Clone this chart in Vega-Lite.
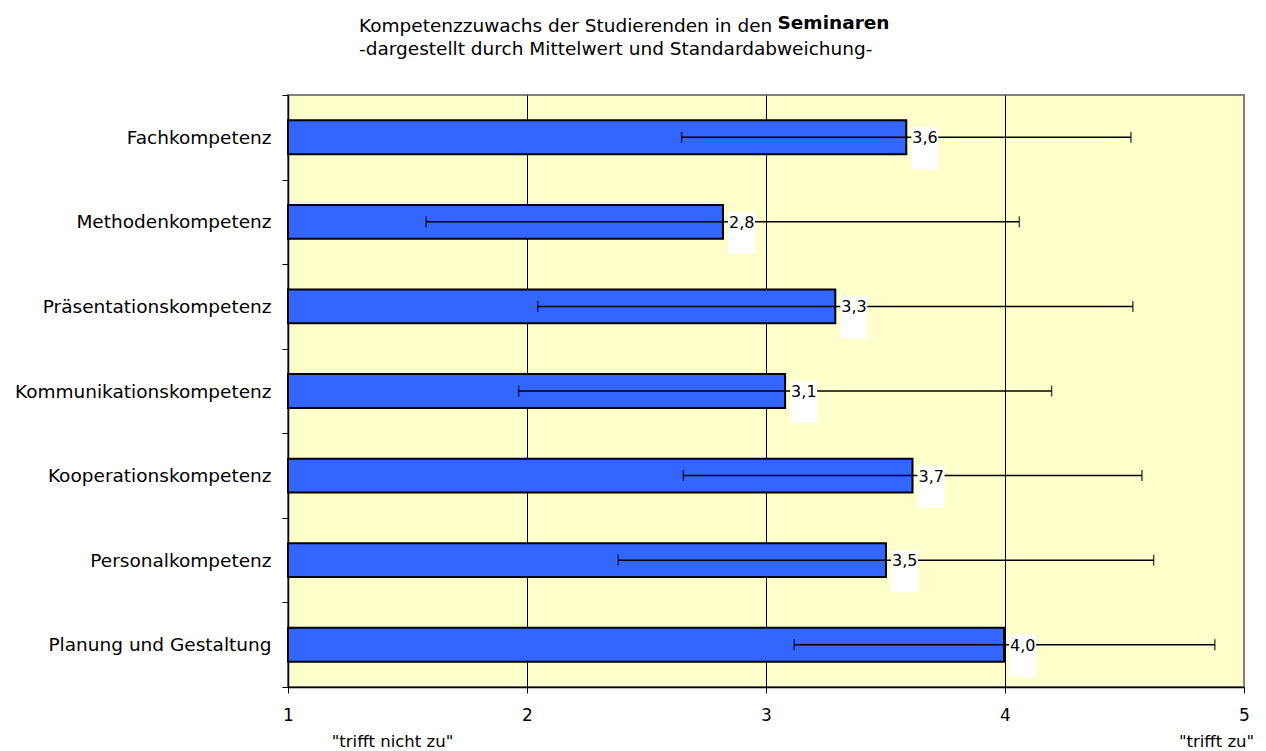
{
  "$schema": "https://vega.github.io/schema/vega-lite/v6.json",
  "width": 956,
  "height": 592,
  "autosize": {"type": "pad"},
  "padding": {"left": 14, "top": 13, "right": 5, "bottom": 5},
  "title": {
    "text": "Kompetenzzuwachs der Studierenden in den",
    "subtitle": "-dargestellt durch Mittelwert und Standardabweichung-",
    "anchor": "start",
    "frame": "group",
    "dx": 71,
    "font": "DejaVu Sans",
    "fontSize": 18.5,
    "fontWeight": "normal",
    "color": "black",
    "subtitleFont": "DejaVu Sans",
    "subtitleFontSize": 18.5,
    "subtitleColor": "black",
    "subtitlePadding": 4,
    "offset": -45
  },
  "config": {
    "font": "DejaVu Sans",
    "view": {"stroke": "#808080", "strokeWidth": 2, "fill": "#FFFFCC"}
  },
  "data": {
    "values": [
      {"kompetenz": "Fachkompetenz", "mean": 3.587, "lo": 2.647, "hi": 4.527, "label": "3,6"},
      {"kompetenz": "Methodenkompetenz", "mean": 2.82, "lo": 1.578, "hi": 4.06, "label": "2,8"},
      {"kompetenz": "Präsentationskompetenz", "mean": 3.29, "lo": 2.045, "hi": 4.535, "label": "3,3"},
      {"kompetenz": "Kommunikationskompetenz", "mean": 3.08, "lo": 1.965, "hi": 4.195, "label": "3,1"},
      {"kompetenz": "Kooperationskompetenz", "mean": 3.613, "lo": 2.654, "hi": 4.573, "label": "3,7"},
      {"kompetenz": "Personalkompetenz", "mean": 3.502, "lo": 2.382, "hi": 4.622, "label": "3,5"},
      {"kompetenz": "Planung und Gestaltung", "mean": 3.996, "lo": 3.118, "hi": 4.878, "label": "4,0"}
    ]
  },
  "encoding": {
    "y": {
      "field": "kompetenz",
      "type": "nominal",
      "sort": null,
      "scale": {"paddingInner": 0, "paddingOuter": 0},
      "axis": {
        "title": "Seminaren",
        "titleAngle": 0,
        "titleAlign": "left",
        "titleBaseline": "alphabetic",
        "titleX": 489,
        "titleY": -67,
        "titleFont": "DejaVu Sans",
        "titleFontSize": 18.5,
        "titleFontWeight": "bold",
        "titleColor": "black",
        "tickBand": "extent",
        "tickSize": 6,
        "tickColor": "black",
        "tickWidth": 1,
        "domainColor": "black",
        "domainWidth": 1.5,
        "labelPadding": 11,
        "labelLimit": 0,
        "labelFont": "DejaVu Sans",
        "labelFontSize": 18.5,
        "labelColor": "black",
        "grid": false
      }
    }
  },
  "layer": [
    {
      "mark": {"type": "bar", "fill": "#3366FF", "stroke": "black", "strokeWidth": 2, "height": {"band": 0.4}},
      "encoding": {
        "x": {
          "field": "mean",
          "type": "quantitative",
          "scale": {"domain": [1, 5], "nice": false, "zero": false},
          "axis": {
            "orient": "bottom",
            "title": null,
            "values": [1, 2, 3, 4, 5],
            "format": "d",
            "grid": true,
            "gridColor": "black",
            "gridWidth": 1,
            "gridOpacity": {"condition": {"test": "datum.value == 1 || datum.value == 5", "value": 0}, "value": 1},
            "tickSize": 6,
            "tickColor": "black",
            "domainColor": "black",
            "domainWidth": 1.5,
            "labelPadding": 14,
            "labelFont": "DejaVu Sans",
            "labelFontSize": 17,
            "labelColor": "black",
            "labelFlush": false
          }
        },
        "x2": {"datum": 1}
      }
    },
    {
      "mark": {"type": "rule", "color": "black", "strokeWidth": 1.5},
      "encoding": {
        "x": {
          "field": "lo",
          "type": "quantitative",
          "axis": {
            "orient": "bottom",
            "title": null,
            "values": [1, 5],
            "ticks": false,
            "tickSize": 0,
            "domain": false,
            "grid": false,
            "labelExpr": "datum.value == 1 ? '\"trifft nicht zu\"' : '\"trifft zu\"'",
            "labelPadding": 46,
            "labelOffset": {"condition": {"test": "datum.value == 1", "value": 104}, "value": -28},
            "labelFont": "DejaVu Sans",
            "labelFontSize": 16.5,
            "labelColor": "black",
            "labelFlush": false
          }
        },
        "x2": {"field": "hi"}
      }
    },
    {
      "mark": {"type": "tick", "orient": "vertical", "size": 11, "thickness": 1.5, "color": "black"},
      "encoding": {"x": {"field": "lo", "type": "quantitative", "axis": null}}
    },
    {
      "mark": {"type": "tick", "orient": "vertical", "size": 11, "thickness": 1.5, "color": "black"},
      "encoding": {"x": {"field": "hi", "type": "quantitative", "axis": null}}
    },
    {
      "mark": {"type": "rect", "fill": "white", "height": 42, "yOffset": 11, "xOffset": 5, "x2Offset": 32},
      "encoding": {
        "x": {"field": "mean", "type": "quantitative", "axis": null},
        "x2": {"field": "mean"}
      }
    },
    {
      "mark": {"type": "text", "align": "left", "baseline": "middle", "dx": 6, "dy": 1, "fontSize": 16, "color": "black", "font": "DejaVu Sans"},
      "encoding": {
        "x": {"field": "mean", "type": "quantitative", "axis": null},
        "text": {"field": "label"}
      }
    }
  ],
  "resolve": {"axis": {"x": "independent"}}
}
